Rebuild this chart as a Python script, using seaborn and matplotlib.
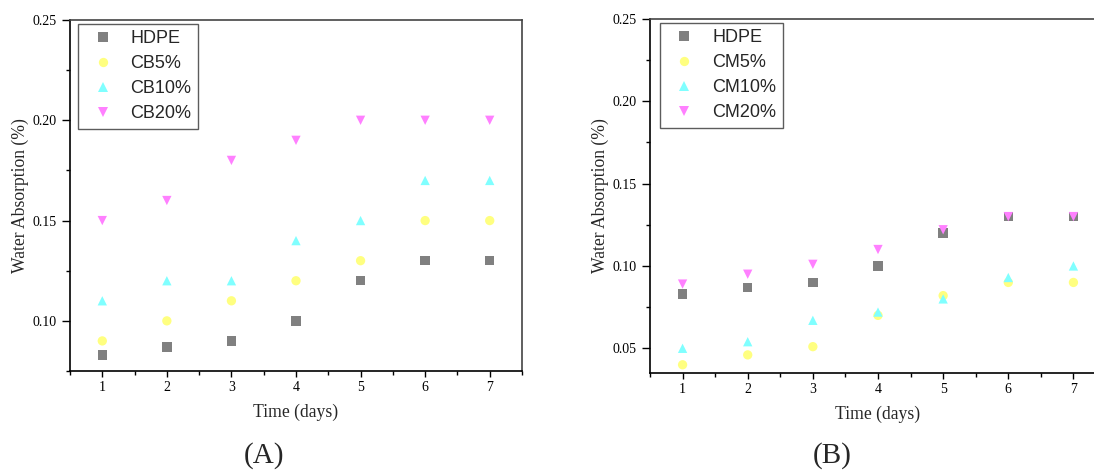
import matplotlib
matplotlib.use("Agg")
import matplotlib.pyplot as plt
import seaborn as sns
import pandas as pd
from matplotlib.ticker import MultipleLocator

days = [1, 2, 3, 4, 5, 6, 7]

# Panel A
hdpe_a = [0.083, 0.087, 0.090, 0.100, 0.120, 0.130, 0.130]
cb5 = [0.090, 0.100, 0.110, 0.120, 0.130, 0.150, 0.150]
cb10 = [0.110, 0.120, 0.120, 0.140, 0.150, 0.170, 0.170]
cb20 = [0.150, 0.160, 0.180, 0.190, 0.200, 0.200, 0.200]

# Panel B
hdpe_b = [0.083, 0.087, 0.090, 0.100, 0.120, 0.130, 0.130]
cm5 = [0.040, 0.046, 0.051, 0.070, 0.082, 0.090, 0.090]
cm10 = [0.050, 0.054, 0.067, 0.072, 0.080, 0.093, 0.100]
cm20 = [0.089, 0.095, 0.101, 0.110, 0.122, 0.130, 0.130]

labels_a = ["HDPE", "CB5%", "CB10%", "CB20%"]
labels_b = ["HDPE", "CM5%", "CM10%", "CM20%"]
colors = ["#808080", "#ffff80", "#80ffff", "#ff80ff"]
markers = ["s", "o", "^", "v"]

sns.set_theme(style="white")
plt.rcParams["font.family"] = ["Liberation Serif", "DejaVu Serif"]

fig = plt.figure(figsize=(10.94, 4.72), dpi=100)
axA = fig.add_axes([70 / 1094, 1 - 371 / 472, 452 / 1094, 351 / 472])
axB = fig.add_axes([650 / 1094, 1 - 373 / 472, 456 / 1094, 354 / 472])


def draw(ax, series, labels, ylim, legend_anchor):
    df = pd.concat(
        [pd.DataFrame({"day": days, "val": s, "series": lab}) for s, lab in zip(series, labels)],
        ignore_index=True,
    )
    sns.scatterplot(
        data=df, x="day", y="val", hue="series", style="series",
        hue_order=labels, style_order=labels,
        palette=dict(zip(labels, colors)), markers=dict(zip(labels, markers)),
        s=45, linewidth=0, ax=ax, legend=True, zorder=3,
    )
    ax.set_xlim(0.5, 7.5)
    ax.set_ylim(*ylim)
    ax.xaxis.set_major_locator(MultipleLocator(1))
    ax.xaxis.set_minor_locator(MultipleLocator(0.5))
    ax.yaxis.set_major_locator(MultipleLocator(0.05))
    ax.yaxis.set_minor_locator(MultipleLocator(0.025))
    ax.yaxis.set_major_formatter(plt.FuncFormatter(lambda v, p: f"{v:.2f}"))
    ax.tick_params(axis="both", which="both", direction="out", colors="black",
                   labelsize=10, bottom=True, left=True, top=False, right=False)
    ax.tick_params(axis="y", which="major", length=6, width=1)
    ax.tick_params(axis="y", which="minor", length=3, width=1)
    ax.tick_params(axis="x", which="major", length=4, width=1)
    ax.tick_params(axis="x", which="minor", length=3, width=1)
    for side in ["left", "bottom"]:
        ax.spines[side].set_color("black")
        ax.spines[side].set_linewidth(1.2)
    for side in ["top", "right"]:
        ax.spines[side].set_color("#444444")
        ax.spines[side].set_linewidth(1.2)
    ax.set_xlabel("Time (days)", fontsize=12.7, labelpad=7)
    ax.set_ylabel("Water Absorption (%)", fontsize=12.7, labelpad=3)
    handles, labs = ax.get_legend_handles_labels()
    leg = ax.legend(handles, labs, loc="upper left", bbox_to_anchor=legend_anchor,
                    frameon=True, fancybox=False, edgecolor="#333333",
                    prop={"family": "Liberation Sans", "size": 13},
                    handlelength=2.0, handletextpad=0.55, labelspacing=0.45,
                    borderpad=0.35, markerscale=1.0, borderaxespad=0)
    leg.get_frame().set_linewidth(1.0)


draw(axA, [hdpe_a, cb5, cb10, cb20], labels_a, (0.075, 0.25), (0.018, 0.99))
draw(axB, [hdpe_b, cm5, cm10, cm20], labels_b, (0.035, 0.25), (0.022, 0.99))

fig.text(264 / 1094, 1 - 456 / 472, "(A)", ha="center", va="center", fontsize=21)
fig.text(832 / 1094, 1 - 456 / 472, "(B)", ha="center", va="center", fontsize=21)

fig.savefig("out.png", dpi=100)
